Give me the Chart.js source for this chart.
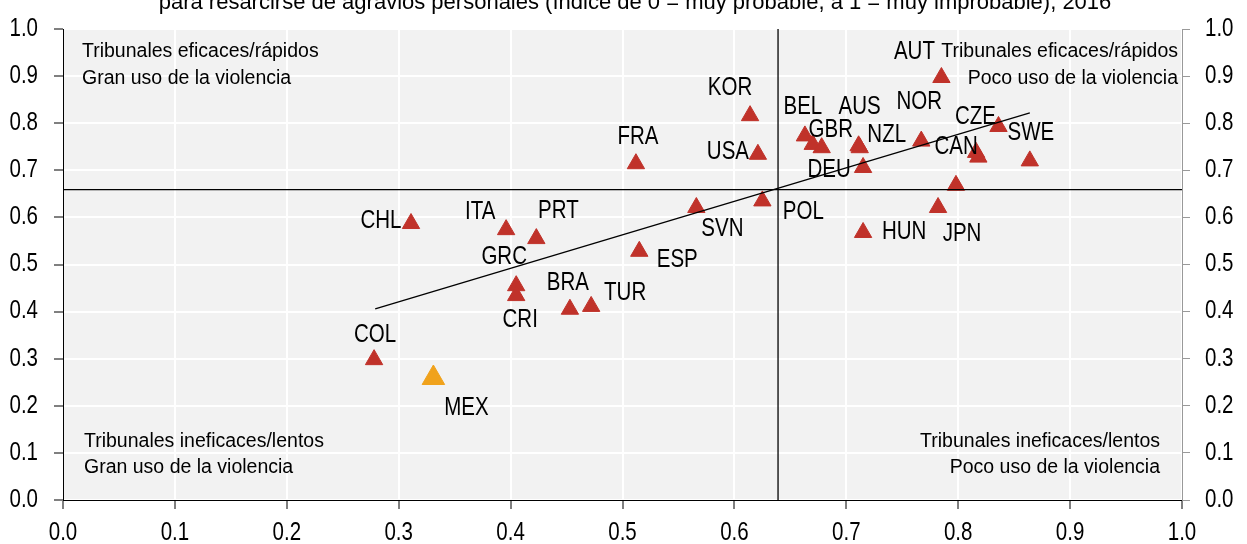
<!DOCTYPE html>
<html>
<head>
<meta charset="utf-8">
<script src="https://cdn.jsdelivr.net/npm/chart.js@4.4.0/dist/chart.umd.min.js"></script>
<style>
  body { margin: 0; background: #fff; }
  #wrap { position: relative; width: 1247px; height: 544px; overflow: hidden; }
</style>
</head>
<body>
<div id="wrap"><canvas id="graphique" width="1247" height="544"></canvas></div>
<script>
// === Données ===
const titre = 'para resarcirse de agravios personales (índice de 0 = muy probable, a 1 = muy improbable), 2016';

const nomsPays = ['CHL', 'ITA', 'PRT', 'GRC', 'CRI', 'BRA', 'TUR', 'ESP', 'SVN', 'FRA',
  'KOR', 'USA', 'POL', 'BEL', 'GBR', '', 'AUS', 'NZL', 'DEU', 'NOR',
  'AUT', 'CZE', 'CAN', '', 'SWE', '', 'JPN', 'HUN', 'COL'];
const indiceTribunaux = [0.311, 0.396, 0.423, 0.405, 0.405, 0.453, 0.472, 0.515, 0.566, 0.512,
  0.614, 0.621, 0.625, 0.663, 0.670, 0.678, 0.711, 0.712, 0.715, 0.767,
  0.785, 0.836, 0.816, 0.818, 0.864, 0.798, 0.782, 0.715, 0.278];
const indiceViolence = [0.587, 0.574, 0.555, 0.455, 0.434, 0.405, 0.411, 0.528, 0.621, 0.714,
  0.816, 0.734, 0.635, 0.773, 0.755, 0.748, 0.752, 0.748, 0.706, 0.762,
  0.897, 0.793, 0.738, 0.728, 0.720, 0.668, 0.621, 0.568, 0.298];

const mexNom = ['MEX'];
const mexX = [0.331];
const mexY = [0.259];

// droite de tendance et moyennes
const tendanceX = [0.279, 0.864];
const tendanceY = [0.406, 0.822];
const moyenneX = [0.639, 0.639];
const moyenneY = [0.659, 0.659];
const bornes = [0, 1];

const graduations = [0, 0.1, 0.2, 0.3, 0.4, 0.5, 0.6, 0.7, 0.8, 0.9, 1.0];

const quadrants = [
  ['Tribunales eficaces/rápidos', 'Gran uso de la violencia'],
  ['Tribunales eficaces/rápidos', 'Poco uso de la violencia'],
  ['Tribunales ineficaces/lentos', 'Gran uso de la violencia'],
  ['Tribunales ineficaces/lentos', 'Poco uso de la violencia']
];

// === Position des étiquettes (décalage en pixels) ===
const decalages = {
  CHL: [-30, -2], ITA: [-26, -18], PRT: [22, -27], GRC: [-12, -29], CRI: [4, 25],
  BRA: [-2, -26], TUR: [34, -13], ESP: [38, 9], SVN: [26, 22], FRA: [2, -27],
  KOR: [-20, -28], USA: [-30, -2], POL: [41, 11], BEL: [-2, -29], GBR: [18, -14],
  AUS: [1, -39], NZL: [27, -13], DEU: [-34, 3], NOR: [-2, -39], AUT: [-27, -25],
  CZE: [-23, -9], CAN: [-20, -5], SWE: [1, -28], JPN: [24, 27], HUN: [41, 0],
  COL: [1, -25], MEX: [33, 30]
};

const ROUGE = '#c0322a';
const ORANGE = '#f0a21c';
const SANS = "'Liberation Sans', Arial, sans-serif";
const SERRE = 0.82; // pas de police étroite installée : on comprime le texte

// texte comprimé horizontalement (façon Arial Narrow)
function texteEtroit(ctx, txt, x, y) {
  const w = ctx.measureText(txt).width;
  ctx.fillText(txt, x, y, w * SERRE);
}

const points = (xs, ys) => xs.map((x, i) => ({ x, y: ys[i] }));

// === Plugins maison ===
const fondZone = {
  id: 'fondZone',
  beforeDraw(chart) {
    const { ctx, chartArea: a } = chart;
    ctx.save();
    ctx.fillStyle = '#f2f2f2';
    ctx.fillRect(a.left, a.top, a.right - a.left, a.bottom - a.top);
    ctx.restore();
  }
};

const etiquettes = {
  id: 'etiquettes',
  afterDatasetsDraw(chart) {
    const ctx = chart.ctx;
    const a = chart.chartArea;
    ctx.save();
    ctx.fillStyle = '#000';

    // noms des pays
    ctx.font = '25px ' + SANS;
    ctx.textAlign = 'center';
    ctx.textBaseline = 'middle';
    const tracer = (dsIndex, noms) => {
      chart.getDatasetMeta(dsIndex).data.forEach((el, i) => {
        const nom = noms[i];
        if (!nom) return;
        const d = decalages[nom] || [0, -25];
        texteEtroit(ctx, nom, el.x + d[0], el.y + d[1]);
      });
    };
    tracer(3, nomsPays);
    tracer(4, mexNom);

    // graduations des axes
    const sx = chart.scales.x, sy = chart.scales.y;
    graduations.forEach(v => {
      const lab = v.toFixed(1);
      ctx.textAlign = 'center';
      texteEtroit(ctx, lab, sx.getPixelForValue(v), 533);
      ctx.textAlign = 'right';
      texteEtroit(ctx, lab, 38, sy.getPixelForValue(v));
      ctx.textAlign = 'left';
      texteEtroit(ctx, lab, 1205, sy.getPixelForValue(v));
    });

    // textes des quadrants
    ctx.font = '19.5px ' + SANS;
    ctx.textAlign = 'left';
    ctx.fillText(quadrants[0][0], a.left + 19, 52);
    ctx.fillText(quadrants[0][1], a.left + 19, 79);
    ctx.fillText(quadrants[2][0], a.left + 21, 442);
    ctx.fillText(quadrants[2][1], a.left + 21, 468);
    ctx.textAlign = 'right';
    ctx.fillText(quadrants[1][0], a.right - 4, 52);
    ctx.fillText(quadrants[1][1], a.right - 4, 79);
    ctx.fillText(quadrants[3][0], a.right - 22, 442);
    ctx.fillText(quadrants[3][1], a.right - 22, 468);

    // titre (coupé en haut de l'image)
    ctx.font = '22px ' + SANS;
    ctx.textAlign = 'center';
    ctx.textBaseline = 'alphabetic';
    ctx.fillText(titre, 635, 9, 966);
    ctx.restore();
  }
};

const axeY = (position, couleur, largeur) => ({
  type: 'linear',
  position,
  min: 0,
  max: 1,
  afterBuildTicks: axis => { axis.ticks = graduations.map(v => ({ value: v })); },
  afterFit: s => { s.width = largeur; },
  ticks: { display: false },
  grid: position === 'left'
    ? { color: '#fff', lineWidth: 2, tickColor: couleur, tickWidth: 1, tickLength: 9 }
    : { drawOnChartArea: false, tickColor: couleur, tickWidth: 1, tickLength: 8 },
  border: { color: couleur, width: 1 }
});

// === Graphique ===
const ctx = document.getElementById('graphique').getContext('2d');

new Chart(ctx, {
  type: 'scatter',
  data: {
    datasets: [
      {
        type: 'line', data: points(tendanceX, tendanceY),
        borderColor: '#000', borderWidth: 1.3, pointRadius: 0, fill: false
      },
      {
        type: 'line', data: points(bornes, moyenneY),
        borderColor: '#000', borderWidth: 1.3, pointRadius: 0, fill: false
      },
      {
        type: 'line', data: points(moyenneX, bornes),
        borderColor: '#000', borderWidth: 1.3, pointRadius: 0, fill: false
      },
      {
        label: 'OCDE', data: points(indiceTribunaux, indiceViolence),
        pointStyle: 'triangle', pointRadius: 10, borderWidth: 1,
        backgroundColor: ROUGE, borderColor: ROUGE
      },
      {
        label: 'MEX', data: points(mexX, mexY),
        pointStyle: 'triangle', pointRadius: 13, borderWidth: 1,
        backgroundColor: ORANGE, borderColor: ORANGE
      }
    ]
  },
  options: {
    responsive: false,
    animation: false,
    layout: { padding: { top: 29, left: 0, right: 0, bottom: 0 } },
    plugins: { legend: { display: false }, tooltip: { enabled: false }, title: { display: false } },
    scales: {
      x: {
        type: 'linear',
        min: 0,
        max: 1,
        afterBuildTicks: axis => { axis.ticks = graduations.map(v => ({ value: v })); },
        afterFit: s => { s.height = 44; },
        ticks: { display: false },
        grid: { color: '#fff', lineWidth: 2, tickColor: '#000', tickWidth: 1, tickLength: 9 },
        border: { color: '#000', width: 1 }
      },
      y: axeY('left', '#000', 63),
      y2: axeY('right', '#999', 65)
    }
  },
  plugins: [fondZone, etiquettes]
});
</script>
</body>
</html>
